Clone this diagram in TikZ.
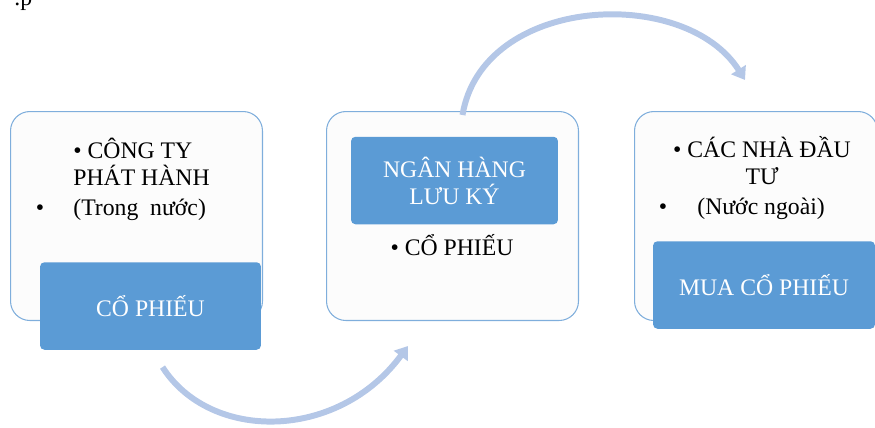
\documentclass[tikz,border=0pt]{standalone}
\usepackage{fontspec}
\setmainfont{Liberation Serif}
\usetikzlibrary{arrows.meta, positioning}
\definecolor{tagblue}{HTML}{5B9BD5}
\definecolor{edgeblue}{HTML}{7FAEDC}
\definecolor{arcblue}{HTML}{B4C7E7}
\newcommand{\fs}{\fontsize{13.5}{15.3}\selectfont}
\tikzstyle{panel} = [rectangle, rounded corners=11pt, draw=edgeblue, line width=0.6pt,
    fill=black!1, anchor=north west, inner sep=0pt, minimum height=4.18cm]
\tikzstyle{tag} = [rectangle, rounded corners=2.5pt, fill=tagblue, text=white,
    align=center, inner sep=0pt, font=\fs, minimum height=1.75cm]
\tikzstyle{item} = [font=\fs, inner sep=0pt]
\tikzstyle{flow} = [line width=3.4pt, draw=arcblue, -{Triangle[width=9.5pt,length=7pt]}]

\begin{document}
\begin{tikzpicture}[x=0.02cm, y=-0.02cm]
  \useasboundingbox (0,0) rectangle (875,427);
  \node (clip) [item, anchor=base west] at (14,5) {.p};

  % panels
  \node (issuer)   [panel, minimum width=5.04cm] at (10,111) {};
  \node (bank)     [panel, minimum width=5.04cm] at (326,111) {};
  \node (investor) [panel, minimum width=4.86cm] at (634,111) {};

  % texts of the panels
  \node (issuerA) [item, anchor=base west, align=left] at (73,185) {\textbullet\ CÔNG TY\\PHÁT HÀNH};
  \node (issuerB) [item, anchor=base] at (40,215) {\textbullet};
  \node (issuerC) [item, anchor=base west] at (73,215) {(Trong\ \ nước)};
  \node (bankA)   [item, anchor=base] at (452,255) {\textbullet\ CỔ PHIẾU};
  \node (invA)    [item, anchor=base, align=center] at (762,184) {\textbullet\ CÁC NHÀ ĐẦU\\TƯ};
  \node (invB)    [item, anchor=base] at (663,214) {\textbullet};
  \node (invC)    [item, anchor=base west] at (697,214) {(Nước ngoài)};

  % blue tags
  \node (stock) [tag, minimum width=4.42cm] at (150.5,306) {CỔ PHIẾU};
  \node (depo)  [tag, minimum width=4.14cm] at (454.5,180.5) {NGÂN HÀNG\\LƯU KÝ};
  \node (buy)   [tag, minimum width=4.44cm] at (764,285) {MUA CỔ PHIẾU};

  % arcs
  \draw[flow] ([shift={(12,17)}]stock.south) .. controls +(48,75) and +(-70,95) .. ([shift={(82,25)}]bank.south west);
  \draw[flow] ([shift={(10,4)}]bank.north) .. controls +(20,-120) and +(-60,-95) .. ([shift={(111,-31)}]investor.north west);
\end{tikzpicture}
\end{document}
